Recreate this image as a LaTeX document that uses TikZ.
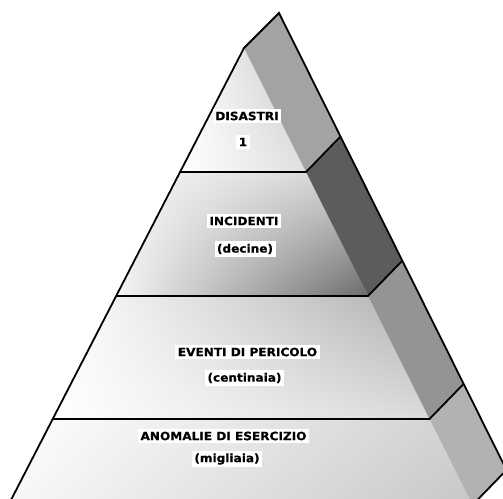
\documentclass[tikz,border=0pt]{standalone}
\usepackage{fontspec}
\usetikzlibrary{shadings}
\newfontfamily\lblfont[FakeStretch=1.06, FakeBold=0.6]{DejaVu Sans Bold}
\begin{document}
\begin{tikzpicture}[x=1pt,y=1pt,
  edge/.style={line width=1.8pt, black, line join=miter},
  lbl/.style={fill=white, inner xsep=2.5pt, inner ysep=2.5pt,
    font=\lblfont\fontsize{11.4}{13}\selectfont}]
\useasboundingbox (0,0) rectangle (503,498);
\clip (0,0) rectangle (503,498);
% key points
\coordinate (F) at (244,450);
\coordinate (B) at (279,485);
\coordinate (L1) at (180,326);  \coordinate (R1) at (306,326);  \coordinate (S1) at (340,361);
\coordinate (L2) at (116,202);  \coordinate (R2) at (368,202);  \coordinate (S2) at (402,237);
\coordinate (L3) at (52.5,79);  \coordinate (R3) at (429.5,79); \coordinate (S3) at (463.5,114);
\coordinate (L4) at (8.4,-7);   \coordinate (R4) at (472.5,-7); \coordinate (S4) at (506.5,28);
% front faces
\shade[upper left=white, upper right=black!22, lower left=white, lower right=black!12]
  (F) -- (L1) -- (R1) -- cycle;
\shade[upper left=black!3, upper right=black!18, lower left=black!4, lower right=black!58]
  (L1) -- (L2) -- (R2) -- (R1) -- cycle;
\shade[upper left=white, upper right=black!32, lower left=white, lower right=black!14]
  (L2) -- (L3) -- (R3) -- (R2) -- cycle;
\shade[upper left=white, upper right=black!18, lower left=black!3, lower right=black!22]
  (L3) -- (L4) -- (R4) -- (R3) -- cycle;
% side faces
\fill[black!36] (F) -- (R1) -- (S1) -- (B) -- cycle;
\fill[black!64] (R1) -- (R2) -- (S2) -- (S1) -- cycle;
\fill[black!42] (R2) -- (R3) -- (S3) -- (S2) -- cycle;
\fill[black!30] (R3) -- (R4) -- (S4) -- (S3) -- cycle;
% outlines
\draw[edge] (L4) -- (F) -- (B) -- (S4);
\draw[edge] (L1) -- (R1) -- (S1);
\draw[edge] (L2) -- (R2) -- (S2);
\draw[edge] (L3) -- (R3) -- (S3);
\draw[edge] (L4) -- (R4) -- (S4);
% labels
\node[lbl] (t1) at (247,382) {DISASTRI};
\node[lbl] (n1) at (243,356) {1};
\node[lbl] (t2) at (244,277) {INCIDENTI};
\node[lbl] (n2) at (245,249) {(decine)};
\node[lbl] (t3) at (247.5,146) {EVENTI DI PERICOLO};
\node[lbl] (n3) at (244.5,120) {(centinaia)};
\node[lbl] (t4) at (223.5,62) {ANOMALIE DI ESERCIZIO};
\node[lbl] (n4) at (227,39) {(migliaia)};
\end{tikzpicture}
\end{document}
